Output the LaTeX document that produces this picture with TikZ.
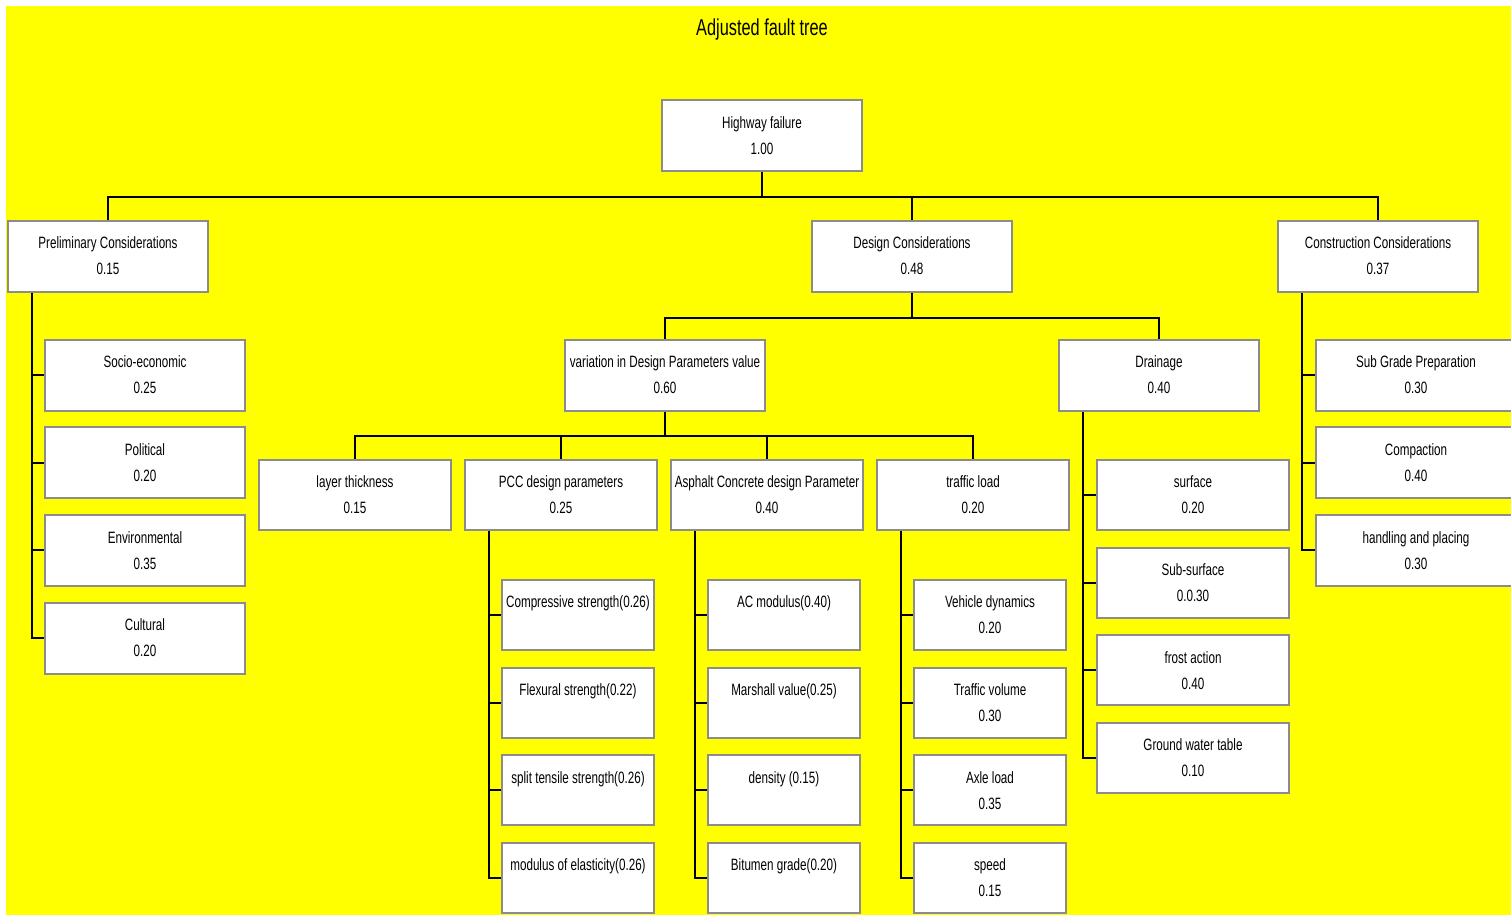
\documentclass[tikz,border=0pt]{standalone}
\usepackage{fontspec}
\setmainfont{Liberation Sans}[FakeStretch=0.71]
\usetikzlibrary{positioning}

\definecolor{sheet}{RGB}{255,255,0}
\definecolor{frame}{RGB}{140,140,140}

\tikzset{
  factor/.style = {draw=frame, line width=1pt, fill=white, align=center, inner sep=0pt,
                   minimum width=100pt, minimum height=35.5pt,
                   font=\fontsize{8.2}{13}\selectfont},
  midbox/.style = {factor, minimum width=96pt, minimum height=35pt},
  leafbox/.style = {factor, minimum width=76pt, minimum height=35pt},
  link/.style = {black, line width=1pt},
}

\begin{document}
\begin{tikzpicture}[x=0.5pt, y=-0.5pt]

    \useasboundingbox (0,0) rectangle (1511,915);
    \clip (0,0) rectangle (1511,915);
    \fill[sheet] (6,6) rectangle (1511,915);

    \def\rowgap{87.67}
    \def\trunk{12.5pt}

    \node[font=\fontsize{11.5}{13}\selectfont] (title) at (762,30) {Adjusted fault tree};

    % top levels
    \node[factor] (hwy) at (762,136) {Highway failure\\1.00};
    \node[factor] (prelim) at (108,256) {Preliminary Considerations\\0.15};
    \node[factor] (design) at (912,256) {Design Considerations\\0.48};
    \node[factor] (constr) at (1378,256) {Construction Considerations\\0.37};

    \node[factor] (varDP) at (665,375) {variation in Design Parameters value\\0.60};
    \node[factor] (drain) at (1159,375) {Drainage\\0.40};

    \node[midbox] (layer) at (355,495) {layer thickness\\0.15};
    \node[midbox] (pcc) at (561,495) {PCC design parameters\\0.25};
    \node[midbox] (asph) at (767,495) {Asphalt Concrete design Parameter\\0.40};
    \node[midbox] (traffic) at (973,495) {traffic load\\0.20};

    % preliminary
    \foreach \name/\txt/\val [count=\i from 0] in
        {socio/Socio-economic/0.25, polit/Political/0.20,
         envir/Environmental/0.35, cultur/Cultural/0.20}
        \node[factor] (\name) at (145,375+\rowgap*\i) {\txt\\\val};

    % construction
    \foreach \name/\txt/\val [count=\i from 0] in
        {subgrade/Sub Grade Preparation/0.30, compact/Compaction/0.40,
         handling/handling and placing/0.30}
        \node[factor] (\name) at (1416,375+\rowgap*\i) {\txt\\\val};

    % drainage
    \foreach \name/\txt/\val [count=\i from 0] in
        {surf/surface/0.20, subsurf/Sub-surface/0.0.30,
         frost/frost action/0.40, gwt/Ground water table/0.10}
        \node[midbox] (\name) at (1193,495+\rowgap*\i) {\txt\\\val};

    % PCC
    \foreach \name/\txt [count=\i from 0] in
        {comp/Compressive strength(0.26), flex/Flexural strength(0.22),
         split/split tensile strength(0.26), modul/modulus of elasticity(0.26)}
        \node[leafbox] (\name) at (578,615+\rowgap*\i) {\txt\\\mbox{}};

    % asphalt
    \foreach \name/\txt [count=\i from 0] in
        {acmod/AC modulus(0.40), marsh/Marshall value(0.25),
         dens/density (0.15), bitu/Bitumen grade(0.20)}
        \node[leafbox] (\name) at (784,615+\rowgap*\i) {\txt\\\mbox{}};

    % traffic
    \foreach \name/\txt/\val [count=\i from 0] in
        {vehic/Vehicle dynamics/0.20, volume/Traffic volume/0.30,
         axle/Axle load/0.35, speed/speed/0.15}
        \node[leafbox] (\name) at (990,615+\rowgap*\i) {\txt\\\val};

    % connectors
    \draw[link] foreach \c in {prelim, design, constr} {(hwy.south) -- ++(0,25) -| (\c.north)};
    \draw[link] foreach \c in {varDP, drain} {(design.south) -- ++(0,25) -| (\c.north)};
    \draw[link] foreach \c in {layer, pcc, asph, traffic} {(varDP.south) -- ++(0,24) -| (\c.north)};

    \draw[link] foreach \c in {socio, polit, envir, cultur} {([xshift=\trunk]prelim.south west) |- (\c.west)};
    \draw[link] foreach \c in {subgrade, compact, handling} {([xshift=\trunk]constr.south west) |- (\c.west)};
    \draw[link] foreach \c in {surf, subsurf, frost, gwt} {([xshift=\trunk]drain.south west) |- (\c.west)};
    \draw[link] foreach \c in {comp, flex, split, modul} {([xshift=\trunk]pcc.south west) |- (\c.west)};
    \draw[link] foreach \c in {acmod, marsh, dens, bitu} {([xshift=\trunk]asph.south west) |- (\c.west)};
    \draw[link] foreach \c in {vehic, volume, axle, speed} {([xshift=\trunk]traffic.south west) |- (\c.west)};

\end{tikzpicture}
\end{document}
